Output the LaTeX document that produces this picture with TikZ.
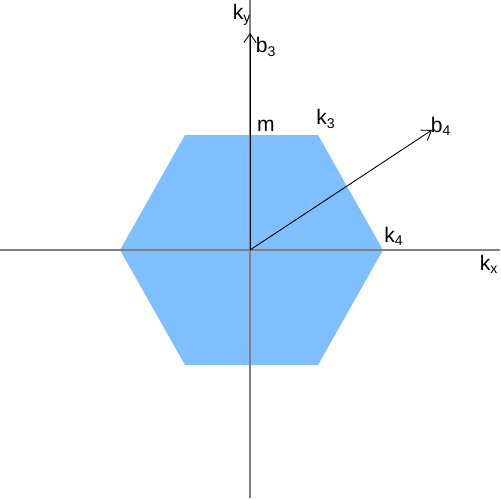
\documentclass[tikz,border=0pt]{standalone}
\usepackage{fontspec}
\setmainfont{Liberation Sans}
\usetikzlibrary{arrows.meta}
\definecolor{hexblue}{HTML}{80BFFF}
\definecolor{axisgray}{HTML}{808080}
\begin{document}
\begin{tikzpicture}[x=0.02cm,y=-0.02cm,
  axis/.style={draw=axisgray,line width=0.6pt},
  vec/.style={draw=black,line width=0.5pt,-{Straight Barb[length=5pt,width=7pt]}},
  lbl/.style={inner sep=0pt,font=\fontsize{12}{14}\selectfont}]
\useasboundingbox (0,0) rectangle (500,500);
\coordinate (O) at (250,250);
\coordinate (L) at (0,250);
\coordinate (R) at (500,250);
\coordinate (T) at (250,0);
\coordinate (B) at (250,498);
\coordinate (b3end) at (250,33);
\coordinate (b4end) at (432,130);
\fill[hexblue] (120,250) -- (185,135) -- (318,135) -- (383,250) -- (318,365) -- (185,365) -- cycle;
\draw[axis] (L) -- (R);
\draw[axis] (T) -- (B);
\draw[vec] (O) -- (b3end);
\draw[vec] (O) -- (b4end);
\node[lbl] (ky) at (242,15) {k\textsubscript{y}};
\node[lbl] (b3) at (266,47) {b\textsubscript{3}};
\node[lbl] (m) at (266,126) {m};
\node[lbl] (k3) at (326,119) {k\textsubscript{3}};
\node[lbl] (b4) at (441,126) {b\textsubscript{4}};
\node[lbl] (k4) at (394,236) {k\textsubscript{4}};
\node[lbl] (kx) at (489,264) {k\textsubscript{x}};
\end{tikzpicture}
\end{document}
